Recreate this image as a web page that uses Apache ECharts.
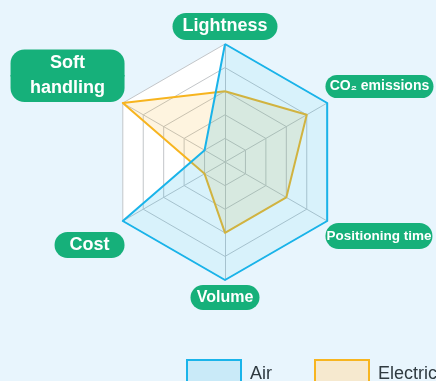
<!DOCTYPE html>
<html><head><meta charset="utf-8">
<script src="https://cdn.jsdelivr.net/npm/echarts@6/dist/echarts.min.js"></script>
<style>html,body{margin:0;padding:0;background:#e8f5fd;}#c{width:436px;height:381px;}</style>
</head><body><div id="c"></div>
<script>
const indicators = ['Lightness', 'Soft handling', 'Cost', 'Volume', 'Positioning time', 'CO₂ emissions'];
const maxValue = 5;
const airValues = [5, 1, 5, 5, 5, 5];
const electricValues = [3, 5, 1, 3, 3, 4];
const seriesNames = ['Air', 'Electric'];

const green = '#16b07a';
const FONT = 'Liberation Sans, Arial, sans-serif';
const pill = (w, h, extra) => Object.assign({
  width: w, height: h, lineHeight: h, align: 'center', backgroundColor: green,
  borderRadius: h / 2, color: '#fff', fontWeight: 'bold', fontSize: 18,
  fontFamily: FONT
}, extra || {});
const gapLine = s => ({width: 1, height: s, lineHeight: s});
const rich = {
  lt: pill(105, 27),
  sh1: pill(114, 27, {borderRadius: [14, 14, 0, 0]}),
  sh2: pill(114, 27, {borderRadius: [0, 0, 14, 14], lineHeight: 24}),
  co: pill(108, 23, {fontSize: 14}),
  pt: pill(107, 26, {fontSize: 13.5}),
  vo: pill(69, 25, {fontSize: 16}),
  cs: pill(70, 26),
  g6: gapLine(6), g7: gapLine(7), g58: gapLine(58), g50: gapLine(50),
  g35: gapLine(35), g32: gapLine(32)
};
const fmt = {
  'Lightness': n => '{lt|' + n + '}\n{g6|}',
  'Soft handling': n => '{sh1|Soft}\n{sh2|handling}\n{g58|}',
  'Cost': n => '{g50|}\n{cs|' + n + '}',
  'Volume': n => '{g7|}\n{vo|' + n + '}',
  'Positioning time': n => '{g32|}\n{pt|' + n + '}',
  'CO₂ emissions': n => '{co|' + n + '}\n{g35|}'
};

const chart = echarts.init(document.getElementById('c'));
chart.setOption({
  backgroundColor: '#e8f5fd',
  animation: false,
  legend: {
    data: [
      {name: seriesNames[0], itemStyle: {color: '#c9eaf8', borderColor: '#1ab4ea', borderWidth: 2}},
      {name: seriesNames[1], itemStyle: {color: '#f6e9cf', borderColor: '#f7b520', borderWidth: 2}}
    ],
    icon: 'rect',
    left: 186, top: 359, width: 400, padding: 0,
    itemWidth: 54, itemHeight: 29, itemGap: 42,
    textStyle: {fontSize: 18, color: '#2f3a40', fontFamily: FONT, padding: [0, 0, 0, 4]}
  },
  radar: {
    center: [225, 162],
    radius: 118,
    startAngle: 90,
    splitNumber: 5,
    shape: 'polygon',
    nameGap: -2,
    indicator: indicators.map(n => ({name: n, max: maxValue, min: 0})),
    axisName: {
      formatter: (n) => fmt[n](n),
      rich: rich
    },
    splitLine: {lineStyle: {color: '#c3c6c9', width: 1}},
    splitArea: {areaStyle: {color: ['#ffffff']}},
    axisLine: {lineStyle: {color: '#c3c6c9'}}
  },
  series: [
    {
      type: 'radar', name: seriesNames[0], z: 3, symbol: 'none',
      lineStyle: {color: '#1ab4ea', width: 2},
      itemStyle: {color: '#1ab4ea'},
      areaStyle: {color: 'rgba(26,180,234,0.24)'},
      data: [{name: seriesNames[0], value: airValues}]
    },
    {
      type: 'radar', name: seriesNames[1], z: 2, symbol: 'none',
      lineStyle: {color: '#f7b520', width: 2},
      itemStyle: {color: '#f7b520'},
      areaStyle: {color: 'rgba(247,178,26,0.2)'},
      data: [{name: seriesNames[1], value: electricValues}]
    }
  ]
});
</script></body></html>
